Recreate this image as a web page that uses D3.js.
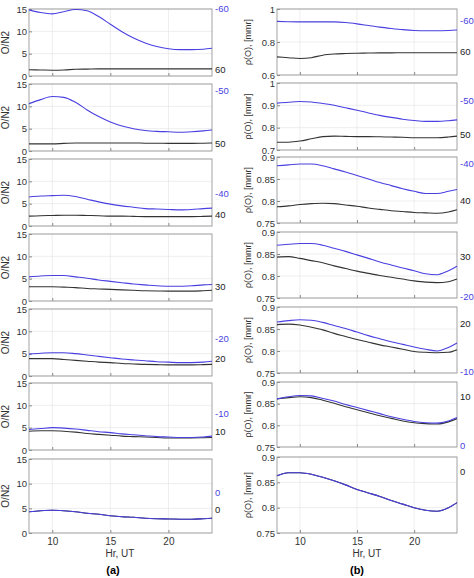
<!DOCTYPE html>
<html><head><meta charset="utf-8">
<script src="https://cdn.jsdelivr.net/npm/d3@7"></script>
<style>body{margin:0;background:#fff}text{font-family:"Liberation Sans",Arial,sans-serif}</style>
</head><body>
<script>
// ---------- DATA ----------
const hours = [8,9,10,11,12,13,14,15,16,17,18,19,20,21,22,23,23.75];
// Left column O/N2 (blue = southern lat, black = northern lat)
const on2Blue = [
 [14.8,14.2,13.9,14.4,14.9,14.6,13.3,11.6,9.9,8.5,7.4,6.6,6.1,5.9,5.9,6.0,6.2],
 [10.6,11.5,12.2,12.0,10.9,9.2,7.7,6.5,5.6,5.0,4.6,4.4,4.3,4.2,4.3,4.5,4.7],
 [6.5,6.7,6.8,6.9,6.6,6.0,5.4,4.9,4.5,4.2,3.9,3.8,3.7,3.6,3.7,3.9,4.0],
 [5.4,5.6,5.7,5.7,5.4,5.1,4.7,4.4,4.1,3.8,3.6,3.4,3.3,3.3,3.4,3.6,3.7],
 [4.9,5.1,5.2,5.2,5.0,4.7,4.4,4.1,3.8,3.6,3.4,3.2,3.1,3.0,3.0,3.1,3.3],
 [4.6,4.8,5.0,4.9,4.7,4.4,4.1,3.9,3.6,3.4,3.2,3.0,2.9,2.8,2.8,2.9,3.1],
 [4.3,4.5,4.6,4.5,4.3,4.0,3.8,3.5,3.3,3.2,3.0,2.9,2.85,2.8,2.8,2.9,3.0]
];
const on2Black = [
 [1.4,1.35,1.3,1.35,1.5,1.55,1.6,1.6,1.6,1.6,1.6,1.6,1.6,1.6,1.6,1.6,1.6],
 [1.6,1.6,1.6,1.7,1.8,1.8,1.8,1.8,1.8,1.8,1.75,1.75,1.7,1.7,1.7,1.75,1.8],
 [2.2,2.3,2.35,2.4,2.4,2.35,2.3,2.2,2.2,2.15,2.1,2.1,2.1,2.1,2.1,2.15,2.2],
 [3.2,3.2,3.2,3.1,3.0,2.8,2.7,2.6,2.5,2.4,2.3,2.25,2.2,2.2,2.2,2.3,2.4],
 [3.9,3.9,3.9,3.7,3.5,3.3,3.1,3.0,2.8,2.7,2.6,2.55,2.5,2.5,2.5,2.55,2.6],
 [4.2,4.3,4.3,4.2,4.0,3.7,3.5,3.3,3.1,3.0,2.9,2.8,2.7,2.7,2.7,2.75,2.8],
 [4.3,4.5,4.6,4.5,4.3,4.0,3.8,3.5,3.3,3.2,3.0,2.9,2.85,2.8,2.8,2.9,3.0]
];
// Right column rho(O) [mmr]
const rhoBlue = [
 [0.925,0.923,0.922,0.922,0.922,0.922,0.918,0.91,0.90,0.89,0.882,0.875,0.87,0.868,0.868,0.87,0.873],
 [0.910,0.914,0.917,0.915,0.908,0.900,0.889,0.878,0.866,0.855,0.846,0.838,0.832,0.828,0.828,0.831,0.835],
 [0.880,0.882,0.884,0.884,0.880,0.873,0.866,0.858,0.850,0.842,0.835,0.828,0.822,0.817,0.817,0.822,0.826],
 [0.870,0.872,0.874,0.874,0.870,0.863,0.856,0.848,0.840,0.832,0.825,0.818,0.812,0.805,0.803,0.812,0.822],
 [0.866,0.869,0.871,0.870,0.865,0.858,0.851,0.843,0.835,0.828,0.821,0.815,0.809,0.804,0.800,0.808,0.818],
 [0.861,0.866,0.869,0.868,0.862,0.856,0.848,0.841,0.834,0.827,0.820,0.814,0.809,0.806,0.805,0.810,0.818],
 [0.863,0.869,0.869,0.866,0.860,0.853,0.845,0.836,0.829,0.822,0.814,0.807,0.800,0.795,0.793,0.800,0.810]
];
const rhoBlack = [
 [0.710,0.705,0.700,0.705,0.720,0.727,0.730,0.732,0.733,0.734,0.734,0.735,0.735,0.735,0.735,0.735,0.735],
 [0.735,0.735,0.740,0.750,0.760,0.762,0.761,0.760,0.760,0.759,0.758,0.757,0.755,0.755,0.755,0.758,0.762],
 [0.787,0.789,0.792,0.794,0.795,0.794,0.791,0.788,0.784,0.781,0.778,0.776,0.774,0.773,0.772,0.775,0.780],
 [0.843,0.844,0.840,0.835,0.830,0.823,0.817,0.811,0.806,0.801,0.797,0.793,0.789,0.786,0.785,0.787,0.793],
 [0.860,0.861,0.859,0.854,0.848,0.840,0.833,0.826,0.820,0.814,0.809,0.804,0.799,0.797,0.796,0.797,0.803],
 [0.861,0.864,0.866,0.864,0.858,0.851,0.843,0.836,0.829,0.822,0.816,0.810,0.806,0.804,0.803,0.808,0.815],
 [0.863,0.869,0.869,0.866,0.860,0.853,0.845,0.836,0.829,0.822,0.814,0.807,0.800,0.795,0.793,0.800,0.810]
];
const xTicks = [10,15,20];
const leftYTicks = [0,5,10,15];
const rightYTicks = [[0.6,0.8,1],[0.7,0.8,0.9,1],[0.75,0.8,0.85,0.9],[0.75,0.8,0.85,0.9],[0.75,0.8,0.85,0.9],[0.75,0.8,0.85,0.9],[0.75,0.8,0.85,0.9]];
const rightYDomains = [[0.6,1],[0.7,1],[0.75,0.9],[0.75,0.9],[0.75,0.9],[0.75,0.9],[0.75,0.9]];
// latitude labels: [text, colour-key, y value]
const leftLabels = [
 [["-60","b",15],["60","k",1.5]],
 [["-50","b",13.5],["50","k",1.7]],
 [["-40","b",7.2],["40","k",2.5]],
 [["30","k",3.1]],
 [["-20","b",8.4],["20","k",3.8]],
 [["-10","b",8.1],["10","k",4.1]],
 [["0","b",8.1],["0","k",4.7]]
];
const rightLabels = [
 [["-60","b",0.927],["60","k",0.74]],
 [["-50","b",0.919],["50","k",0.767]],
 [["-40","b",0.884],["40","k",0.80]],
 [["30","k",0.843],["-20","b",0.752]],
 [["20","k",0.861],["-10","b",0.752]],
 [["10","k",0.865],["0","b",0.752]],
 [["0","k",0.872]]
];
// ---------- LAYOUT ----------
const W=474,H=578, BLUE="#4a3fe0", BLACK="#333";
const leftRows=[[9,76],[84,151],[159,226],[234,301],[309,376],[383,450],[459,533]];
const rightRows=[[9,75],[83,150],[157,223],[232,298],[307,373],[382,447],[457,533]];
const svg=d3.select("body").append("svg").attr("width",W).attr("height",H);

function panel(x0,x1,rows,i,ydom,yticks,blue,black,labels,ylab,fmt,last){
  const [t,b]=rows[i];
  const x=d3.scaleLinear().domain([8,23.75]).range([x0,x1]);
  const y=d3.scaleLinear().domain(ydom).range([b,t]);
  const g=svg.append("g");
  g.selectAll(".gx").data(xTicks).join("line").attr("x1",d=>x(d)).attr("x2",d=>x(d)).attr("y1",t).attr("y2",b).attr("stroke","#e3e3e3").attr("stroke-width",0.6);
  g.selectAll(".gy").data(yticks).join("line").attr("x1",x0).attr("x2",x1).attr("y1",d=>y(d)).attr("y2",d=>y(d)).attr("stroke","#e3e3e3").attr("stroke-width",0.6);
  const ya=g.append("g").attr("transform",`translate(${x0},0)`).call(d3.axisLeft(y).tickValues(yticks).tickSize(3).tickFormat(fmt));
  ya.select(".domain").remove();
  ya.selectAll("line").attr("stroke","#888").attr("x2",3);
  ya.selectAll("text").attr("x",-2).attr("font-size",9.5).attr("fill","#333");
  const xa=g.append("g").attr("transform",`translate(0,${b})`).call(d3.axisBottom(x).tickValues(xTicks).tickSize(3).tickFormat(last?d3.format("d"):""));
  xa.select(".domain").remove();
  xa.selectAll("line").attr("stroke","#888").attr("y2",-3);
  xa.selectAll("text").attr("font-size",10).attr("fill","#333").attr("y",5);
  g.append("rect").attr("x",x0).attr("y",t).attr("width",x1-x0).attr("height",b-t).attr("fill","none").attr("stroke","#999").attr("stroke-width",0.9);
  const line=d3.line().x((d,k)=>x(hours[k])).y(d=>y(d)).curve(d3.curveMonotoneX);
  g.append("path").attr("d",line(black)).attr("fill","none").attr("stroke",BLACK).attr("stroke-width",1.1);
  g.append("path").attr("d",line(blue)).attr("fill","none").attr("stroke",BLUE).attr("stroke-width",1.1);
  labels.forEach(l=>g.append("text").attr("x",x1+3).attr("y",y(l[2])).attr("dy","0.35em").attr("font-size",9.5).attr("fill",l[1]=="b"?BLUE:"#222").text(l[0]));
  g.append("text").attr("transform",`translate(${x0-(ylab=="O/N2"?20:26)},${(t+b)/2}) rotate(-90)`).attr("text-anchor","middle").attr("font-size",ylab=="O/N2"?10:9).attr("fill","#333").text(ylab);
}
for(let i=0;i<7;i++){
  panel(29,212,leftRows,i,[0,15],leftYTicks,on2Blue[i],on2Black[i],leftLabels[i],"O/N2",d3.format("d"),i==6);
  panel(277,457,rightRows,i,rightYDomains[i],rightYTicks[i],rhoBlue[i],rhoBlack[i],rightLabels[i],"ρ(O), [mmr]",d=>String(+d),i==6);
}
svg.append("text").attr("x",120).attr("y",557).attr("text-anchor","middle").attr("font-size",10).attr("fill","#333").text("Hr, UT");
svg.append("text").attr("x",367).attr("y",557).attr("text-anchor","middle").attr("font-size",10).attr("fill","#333").text("Hr, UT");
svg.append("text").attr("x",113).attr("y",574).attr("text-anchor","middle").attr("font-size",11).attr("font-family","Liberation Serif").attr("font-weight","bold").text("(a)");
svg.append("text").attr("x",357).attr("y",574).attr("text-anchor","middle").attr("font-size",11).attr("font-family","Liberation Serif").attr("font-weight","bold").text("(b)");
</script>
</body></html>
